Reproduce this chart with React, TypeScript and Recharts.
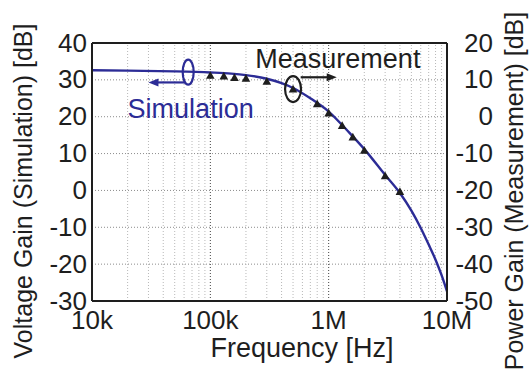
import {
  ComposedChart,
  Line,
  XAxis,
  YAxis,
  CartesianGrid,
  ReferenceLine,
  ReferenceDot,
} from "recharts";

const FONT = "'Liberation Sans', Arial, Helvetica, sans-serif";
const BLUE = "#2c2c96";
const INK = "#1e1e1e";

// Simulation: voltage gain, left axis [dB]
const simFreq = [1e4, 2e4, 5e4, 1e5, 1.5e5, 2e5, 3e5, 4e5, 5e5, 7e5, 1e6, 1.5e6, 2e6, 3e6, 4e6, 5e6, 6e6, 7e6, 8e6, 9e6, 1e7];
const simGain = [32.6, 32.5, 32.3, 32.0, 31.7, 31.3, 30.3, 29.1, 27.8, 25.0, 21.4, 15.6, 11.2, 4.2, -0.7, -5.5, -10.2, -14.7, -18.8, -23.0, -27.4];

// Measurement: power gain, right axis [dB]
const measFreq = [1e5, 1.3e5, 1.6e5, 2e5, 3e5, 5e5, 8e5, 1e6, 1.3e6, 1.6e6, 2e6, 3e6, 4e6];
const measGain = [11.2, 11.0, 10.6, 10.4, 9.6, 7.5, 3.5, 1.0, -2.4, -5.5, -9.1, -16.0, -20.3];

const xTicks = [1e4, 1e5, 1e6, 1e7];
const xTickLabels = ["10k", "100k", "1M", "10M"];
const leftTicks = [40, 30, 20, 10, 0, -10, -20, -30];
const rightTicks = [20, 10, 0, -10, -20, -30, -40, -50];
const majorGrid = [1e5, 1e6];
const minorGrid = [
  2e4, 3e4, 4e4, 5e4, 6e4, 7e4, 8e4, 9e4,
  2e5, 3e5, 4e5, 5e5, 6e5, 7e5, 8e5, 9e5,
  2e6, 3e6, 4e6, 5e6, 6e6, 7e6, 8e6, 9e6,
];

const simData = simFreq.map((f, i) => ({ f, gain: simGain[i] }));
const measData = measFreq.map((f, i) => ({ f, gain: measGain[i] }));

const TICK_SIZE = 26;

const SideTick = ({ x, y, payload }: any) => (
  <text x={x} y={y} dy={8.5} textAnchor="end" fontSize={TICK_SIZE} fontFamily={FONT} fill={INK}>
    {payload.value}
  </text>
);

const BottomTick = ({ x, y, payload, index }: any) => (
  <text x={x} y={y} dy={28} textAnchor="middle" fontSize={TICK_SIZE} fontFamily={FONT} fill={INK}>
    {xTickLabels[index] ?? payload.value}
  </text>
);

const Triangle = (props: any) => {
  const { cx, cy } = props;
  if (cx == null || cy == null) return <g />;
  const s = 4.3;
  return (
    <polygon
      points={`${cx},${cy - s} ${cx - s},${cy + s * 0.8} ${cx + s},${cy + s * 0.8}`}
      fill={INK}
    />
  );
};

const arrow = (color: string) => (p: any) => {
  const { x1, y1, x2, y2 } = p;
  const dir = Math.sign(x2 - x1) || 1;
  const head = 10;
  return (
    <g>
      <line x1={x1} y1={y1} x2={x2 - dir * head * 0.6} y2={y2} stroke={color} strokeWidth={2.2} />
      <polygon
        points={`${x2},${y2} ${x2 - dir * head},${y2 - 4} ${x2 - dir * head},${y2 + 4}`}
        fill={color}
      />
    </g>
  );
};

const ellipse = (color: string, rx: number, ry: number) => (p: any) => (
  <ellipse cx={p.cx} cy={p.cy} rx={rx} ry={ry} fill="none" stroke={color} strokeWidth={2.2} />
);

const label = (text: string, color: string) => (p: any) => (
  <text x={p.cx} y={p.cy} fontSize={27} fontFamily={FONT} fill={color}>
    {text}
  </text>
);

export default function App() {
  return (
    <div style={{ position: "absolute", left: 0, top: 0, width: 532, height: 377, background: "#fff" }}>
      <ComposedChart width={532} height={377} margin={{ top: 43, right: 0, bottom: 0, left: 0 }}>
        <CartesianGrid
          yAxisId="left"
          vertical={false}
          stroke="#8c8c8c"
          strokeDasharray="1 2"
        />
        {minorGrid.map((v) => (
          <ReferenceLine key={v} x={v} yAxisId="left" stroke="#b8b8b8" strokeDasharray="1 2" />
        ))}
        {majorGrid.map((v) => (
          <ReferenceLine key={v} x={v} yAxisId="left" stroke="#444" strokeDasharray="1 2" />
        ))}
        <XAxis
          dataKey="f"
          type="number"
          scale="log"
          domain={[1e4, 1e7]}
          ticks={xTicks}
          allowDataOverflow
          height={76}
          tickSize={0}
          tickMargin={0}
          tick={<BottomTick />}
          axisLine={{ stroke: INK, strokeWidth: 2 }}
          label={{
            content: () => (
              <text x={302} y={357} textAnchor="middle" fontSize={27} fontFamily={FONT} fill={INK}>
                Frequency [Hz]
              </text>
            ),
          }}
        />
        <YAxis
          yAxisId="left"
          type="number"
          domain={[-30, 40]}
          ticks={leftTicks}
          width={92}
          tickSize={0}
          tickMargin={5}
          tick={<SideTick />}
          axisLine={{ stroke: INK, strokeWidth: 2 }}
          label={{
            content: () => (
              <text
                x={32}
                y={191}
                transform="rotate(-90 32 191)"
                textAnchor="middle"
                fontSize={25}
                fontFamily={FONT}
                fill={INK}
              >
                Voltage Gain (Simulation) [dB]
              </text>
            ),
          }}
        />
        <YAxis
          yAxisId="right"
          orientation="right"
          type="number"
          domain={[-50, 20]}
          ticks={rightTicks}
          width={85}
          tickSize={0}
          tickMargin={46}
          tick={<SideTick />}
          axisLine={{ stroke: INK, strokeWidth: 2 }}
          label={{
            content: () => (
              <text
                x={523}
                y={191}
                transform="rotate(-90 523 191)"
                textAnchor="middle"
                fontSize={25}
                fontFamily={FONT}
                fill={INK}
              >
                Power Gain (Measurement) [dB]
              </text>
            ),
          }}
        />
        <ReferenceLine y={40} yAxisId="left" stroke={INK} strokeWidth={2} />

        <Line
          data={simData}
          yAxisId="left"
          dataKey="gain"
          type="monotone"
          stroke={BLUE}
          strokeWidth={2.4}
          dot={false}
          isAnimationActive={false}
        />
        <Line
          data={measData}
          yAxisId="right"
          dataKey="gain"
          stroke="none"
          dot={<Triangle />}
          isAnimationActive={false}
        />

        <ReferenceDot x={6.5e4} y={32.1} yAxisId="left" r={1} shape={ellipse(BLUE, 5.5, 12.5)} />
        <ReferenceDot x={5e5} y={27.5} yAxisId="left" r={1} shape={ellipse(INK, 8, 13)} />
        <ReferenceLine
          yAxisId="left"
          segment={[{ x: 6.1e4, y: 29.3 }, { x: 3e4, y: 29.3 }]}
          shape={arrow(BLUE)}
        />
        <ReferenceLine
          yAxisId="left"
          segment={[{ x: 5.8e5, y: 30.7 }, { x: 1.17e6, y: 30.7 }]}
          shape={arrow(INK)}
        />
        <ReferenceDot x={2.4e5} y={33.3} yAxisId="left" r={1} shape={label("Measurement", INK)} />
        <ReferenceDot x={2e4} y={19.6} yAxisId="left" r={1} shape={label("Simulation", BLUE)} />
      </ComposedChart>
    </div>
  );
}
